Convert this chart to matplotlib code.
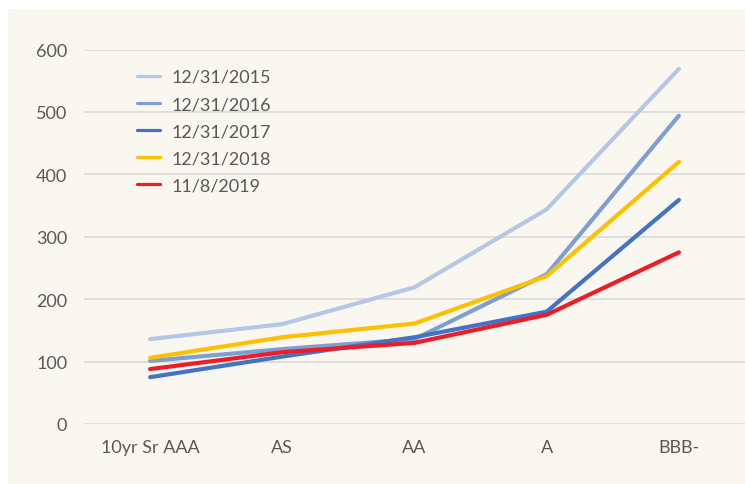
import matplotlib
matplotlib.use("Agg")
import matplotlib.pyplot as plt
from matplotlib.patches import Rectangle

categories = ["10yr Sr AAA", "AS", "AA", "A", "BBB-"]
series_names = ["12/31/2015", "12/31/2016", "12/31/2017", "12/31/2018", "11/8/2019"]
s2015 = [136, 160, 219, 344, 569]
s2016 = [101, 120, 136, 240, 494]
s2017 = [75, 108, 139, 180, 359]
s2018 = [106, 139, 161, 237, 420]
s2019 = [88, 115, 130, 175, 275]
y_ticks = [0, 100, 200, 300, 400, 500, 600]

colors = ["#b4c7e7", "#7f9fd3", "#4472c4", "#ffc000", "#ee1c25"]
txt = "#595959"
bg = "#faf7f1"

plt.rcParams['font.family'] = ['Lato', 'DejaVu Sans']

W, H = 745, 485
fig = plt.figure(figsize=(W / 100, H / 100), dpi=100)
fig.patch.set_facecolor("white")
fig.add_artist(Rectangle((8 / W, 0), 1 - 8 / W, 1 - 10 / H, transform=fig.transFigure,
                         facecolor=bg, edgecolor="none", zorder=0))

ax = fig.add_axes([84 / W, (H - 425) / H, (745 - 84) / W, (425 - 50.5) / H])
ax.set_facecolor("none")

xs = list(range(len(categories)))
for name, vals, c in zip(series_names, [s2015, s2016, s2017, s2018, s2019], colors):
    ax.plot(xs, vals, color=c, lw=3.0, label=name, solid_capstyle="round", zorder=3)

ax.set_xlim(-0.5, len(categories) - 0.5)
ax.set_ylim(0, 600)
ax.set_yticks(y_ticks)
ax.set_xticks(xs)
ax.set_xticklabels(categories)
ax.grid(axis="y", color="#d9d9d9", lw=1.2, zorder=1)
ax.set_axisbelow(True)
for s in ax.spines.values():
    s.set_visible(False)
ax.tick_params(axis="both", length=0, labelsize=13, labelcolor=txt)
ax.tick_params(axis="y", pad=12)
ax.tick_params(axis="x", pad=11)

leg = ax.legend(loc="upper left", bbox_to_anchor=(137 / W, 1 - 70 / H),
                bbox_transform=fig.transFigure, frameon=False, fontsize=13,
                handlelength=1.3, handletextpad=0.6, labelspacing=0.62,
                borderpad=0, borderaxespad=0)
for t in leg.get_texts():
    t.set_color(txt)
for l in leg.get_lines():
    l.set_linewidth(2.3)

fig.savefig("out.png", dpi=100, facecolor=fig.get_facecolor())
